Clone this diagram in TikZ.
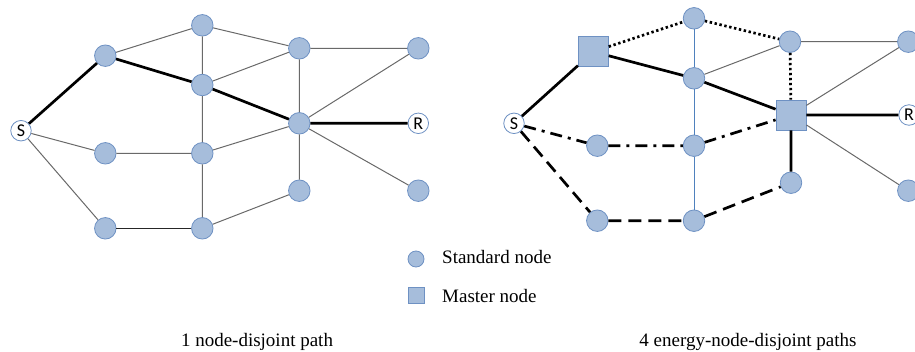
\documentclass[tikz,border=0pt]{standalone}
\usepackage{fontspec}
\setmainfont{Liberation Serif}
\newfontfamily\lblfont{Carlito}
\begin{document}
\begin{tikzpicture}[x=1pt,y=-1pt,
  std/.style={circle,draw=nodeborder,fill=nodefill,line width=0.8pt,minimum size=21.5pt,inner sep=0pt},
  mst/.style={rectangle,draw=nodeborder,fill=nodefill,line width=0.8pt,minimum size=30pt,inner sep=0pt},
  term/.style={circle,draw=nodeborder,fill=white,line width=0.8pt,minimum size=20.5pt,inner sep=0pt,font=\lblfont\fontsize{18}{18}\selectfont},
  thin/.style={draw=thingray,line width=1pt},
  bluel/.style={draw=bluelink,line width=1pt},
  thk/.style={draw=black,line width=2.7pt},
  dotl/.style={draw=black,line width=2.7pt,dash pattern=on 2.4pt off 2.6pt},
  dashdotl/.style={draw=black,line width=2.7pt,dash pattern=on 12pt off 6pt on 3pt off 6pt},
  dashl/.style={draw=black,line width=2.7pt,dash pattern=on 13pt off 7pt},
  captext/.style={font=\fontsize{19}{22}\selectfont,anchor=base,inner sep=0pt}
]
\definecolor{nodefill}{RGB}{166,189,219}
\definecolor{nodeborder}{RGB}{110,145,195}
\definecolor{thingray}{RGB}{105,105,105}
\definecolor{bluelink}{RGB}{79,129,189}
\useasboundingbox (0,0) rectangle (915,351);
\clip (0,0) rectangle (915,351);
% ---------- left graph ----------
\node[term] (S) at (21,130.7) {S};
\node[std] (A) at (105.3,55.7) {};
\node[std] (B) at (202.3,25.3) {};
\node[std] (C) at (202.3,85) {};
\node[std] (D) at (299.3,48.3) {};
\node[std] (E) at (418.3,48.3) {};
\node[std] (F) at (299.3,123.3) {};
\node[term] (R) at (418.3,123.3) {R};
\node[std] (G) at (105.3,153.3) {};
\node[std] (H) at (202.3,153.3) {};
\node[std] (I) at (299.3,190.7) {};
\node[std] (J) at (418.3,190.7) {};
\node[std] (K) at (105.3,228.3) {};
\node[std] (L) at (202.3,228.3) {};
\path[thin] (A) -- (B) (B) -- (C) (B) -- (D) (C) -- (D) (D) -- (E) (D) -- (F)
  (F) -- (E) (F) -- (J) (F) -- (I) (F) -- (H) (S) -- (G) (G) -- (H) (H) -- (C)
  (H) -- (L) (S) -- (K) (L) -- (I);
\path[draw=black!85,line width=1pt] (K) -- (L);
\path[thk] (S) -- (A) (A) -- (C) (C) -- (F) (F) -- (R);
% ---------- right graph ----------
\node[term] (S2) at (514,123.3) {S};
\node[mst] (M1) at (593.3,51.7) {};
\node[std] (B2) at (694,18.3) {};
\node[std] (C2) at (694,78.3) {};
\node[std] (D2) at (790,41.7) {};
\node[std] (E2) at (908.3,41.7) {};
\node[mst] (M2) at (791,115) {};
\node[term] (R2) at (909,115) {R};
\node[std] (G2) at (597.3,145.7) {};
\node[std] (H2) at (694,145.7) {};
\node[std] (I2) at (791,182.7) {};
\node[std] (J2) at (908.3,190.7) {};
\node[std] (K2) at (597.3,220.7) {};
\node[std] (L2) at (694,220.7) {};
\path[thin] (C2) -- (D2) (D2) -- (E2) (M2) -- (E2) (M2) -- (J2);
\path[bluel] (B2) -- (C2) (C2) -- (H2) (H2) -- (L2);
\path[thk] (S2) -- (M1) (M1) -- (C2) (C2) -- (M2) (M2) -- (R2) (M2) -- (I2);
\path[dotl] (M1) -- (B2) (B2) -- (D2) (D2) -- (M2);
\path[dashdotl] (S2) -- (G2) (G2) -- (H2) (H2) -- (M2);
\path[dashl] (S2) -- (K2) (K2) -- (L2) (L2) -- (I2);
% ---------- legend ----------
\node[std,minimum size=16pt] (LC) at (416,259) {};
\node[mst,minimum size=16pt] (LS) at (416,295) {};
\node[captext,anchor=base west] (LT1) at (442,263) {Standard node};
\node[captext,anchor=base west] (LT2) at (442,302) {Master node};
% ---------- captions ----------
\node[captext] (C1) at (257,346) {1 node-disjoint path};
\node[captext] (C2cap) at (748,346) {4 energy-node-disjoint paths};
\end{tikzpicture}
\end{document}
